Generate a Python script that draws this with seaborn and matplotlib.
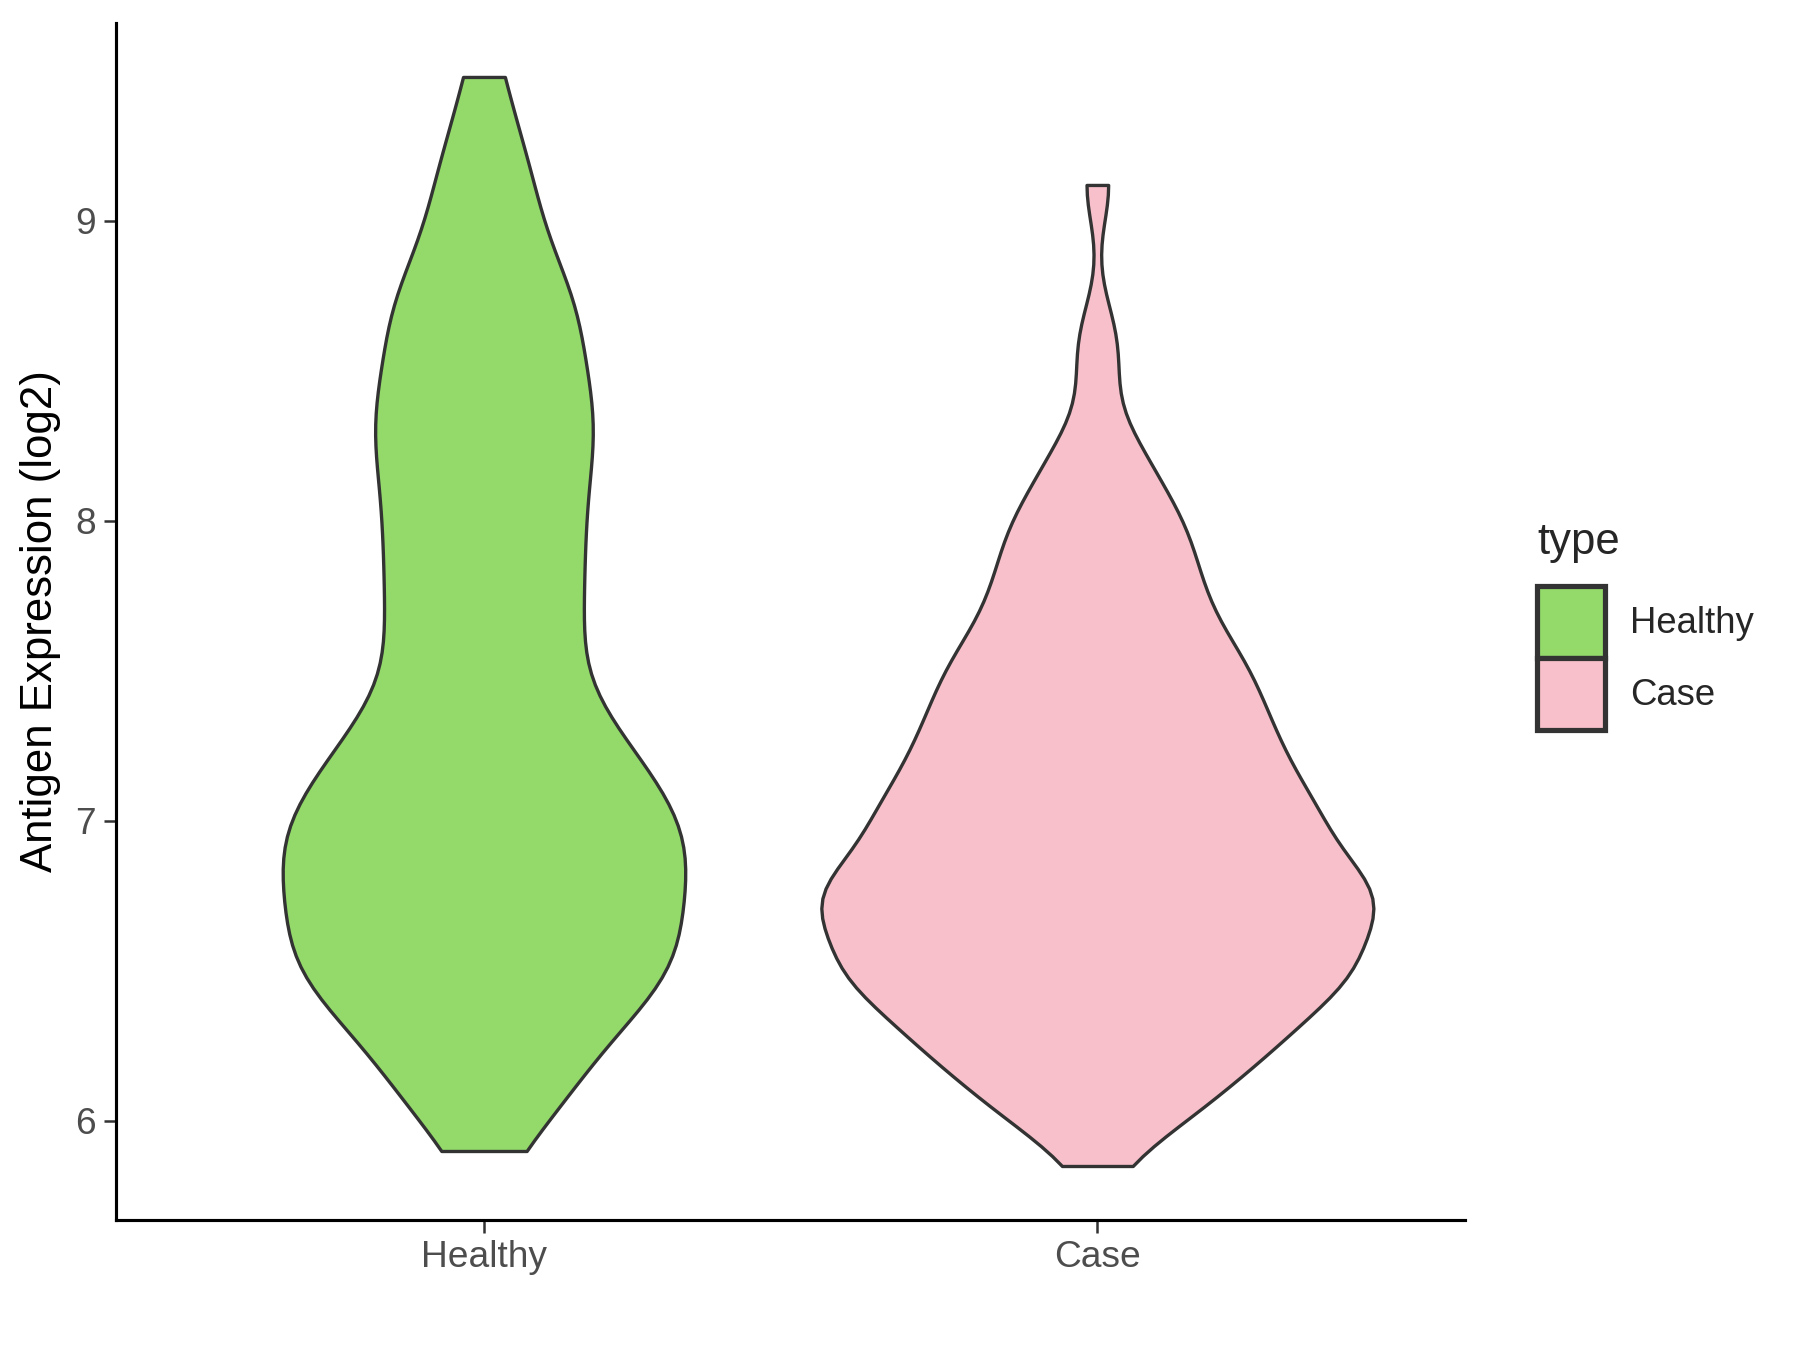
import pandas as pd
import matplotlib
matplotlib.use("Agg")
import matplotlib.pyplot as plt
import seaborn as sns

# Expression values (log2)
healthy = [5.90, 6.02, 6.08, 6.12, 6.17, 6.22, 6.27, 6.32, 6.36, 6.40, 6.44, 6.46, 6.48, 6.50,
           6.51, 6.53, 6.55, 6.57, 6.61, 6.65, 6.68, 6.71, 6.74, 6.76, 6.78, 6.80, 6.82, 6.85,
           6.88, 6.91, 6.94, 6.96, 6.98, 7.00, 7.02, 7.04, 7.06, 7.09, 7.13, 7.17, 7.21, 7.24,
           7.27, 7.30, 7.33, 7.36, 7.42, 7.53, 7.57, 7.61, 7.65, 7.70, 7.77, 7.82, 7.87, 7.92,
           7.97, 8.02, 8.07, 8.12, 8.18, 8.23, 8.28, 8.32, 8.35, 8.39, 8.43, 8.49, 8.56, 8.62,
           8.67, 8.71, 8.74, 8.80, 8.88, 8.97, 9.08, 9.16, 9.27, 9.48]
case = [5.85, 5.98, 6.00, 6.03, 6.05, 6.08, 6.11, 6.14, 6.17, 6.20, 6.22, 6.23, 6.25, 6.26,
        6.28, 6.30, 6.31, 6.33, 6.35, 6.37, 6.39, 6.41, 6.42, 6.44, 6.45, 6.47, 6.48, 6.49,
        6.50, 6.50, 6.51, 6.52, 6.53, 6.55, 6.56, 6.58, 6.59, 6.61, 6.63, 6.65, 6.66, 6.68,
        6.69, 6.70, 6.71, 6.72, 6.73, 6.73, 6.74, 6.75, 6.76, 6.77, 6.78, 6.79, 6.81, 6.82,
        6.84, 6.85, 6.87, 6.89, 6.90, 6.92, 6.93, 6.95, 6.96, 6.97, 6.99, 7.00, 7.02, 7.03,
        7.05, 7.06, 7.08, 7.10, 7.11, 7.13, 7.14, 7.16, 7.18, 7.20, 7.22, 7.24, 7.26, 7.28,
        7.29, 7.31, 7.33, 7.35, 7.37, 7.39, 7.42, 7.44, 7.46, 7.48, 7.50, 7.52, 7.54, 7.57,
        7.59, 7.62, 7.64, 7.67, 7.71, 7.75, 7.77, 7.80, 7.83, 7.87, 7.91, 7.95, 7.98, 8.01,
        8.05, 8.10, 8.17, 8.22, 8.30, 8.50, 8.64, 9.12]
groups = ["Healthy", "Case"]
colors = {"Healthy": "#93DA6A", "Case": "#F7C0CA"}

df = pd.DataFrame({
    "type": ["Healthy"] * len(healthy) + ["Case"] * len(case),
    "value": healthy + case,
})

sns.set_style("white")
plt.rcParams["font.family"] = ["Liberation Sans", "DejaVu Sans"]

fig = plt.figure(figsize=(12, 9), dpi=150)
ax = fig.add_axes([0.0644, 0.0963, 0.7497, 0.8867])

sns.violinplot(data=df, x="type", y="value", hue="type", order=groups, hue_order=groups,
               palette=colors, cut=0, inner=None, width=0.9, bw_method=0.2,
               density_norm="area", common_norm=True, linecolor="#333333", linewidth=1.6,
               saturation=1, dodge=False, legend=True, ax=ax)

ax.set_xlim(-0.6, 1.6)
ax.set_ylim(5.67, 9.66)
ax.set_yticks([6, 7, 8, 9])
ax.set_xlabel("")
ax.set_ylabel("Antigen Expression (log2)", fontsize=21, color="black", labelpad=7)
ax.tick_params(axis="both", labelsize=17.8, labelcolor="#4D4D4D", color="#333333",
               length=6, width=1.2, direction="out", bottom=True, left=True)
for side in ["top", "right"]:
    ax.spines[side].set_visible(False)
for side in ["left", "bottom"]:
    ax.spines[side].set_color("black")
    ax.spines[side].set_linewidth(1.5)

leg = ax.get_legend()
handles = leg.legend_handles
leg.remove()
for h in handles:
    h.set_edgecolor("#333333")
    h.set_linewidth(2.5)
leg = fig.legend(handles, groups, title="type", loc="center left",
                 bbox_to_anchor=(0.844, 0.5365), frameon=False, fontsize=17.5,
                 title_fontsize=21, handlelength=1.85, handleheight=2.66,
                 handletextpad=0.7, labelspacing=0.0, borderpad=0, alignment="left")
# gap between the legend title and the keys
leg._legend_box.sep = 11

fig.savefig("out.png", dpi=150)
plt.close()
